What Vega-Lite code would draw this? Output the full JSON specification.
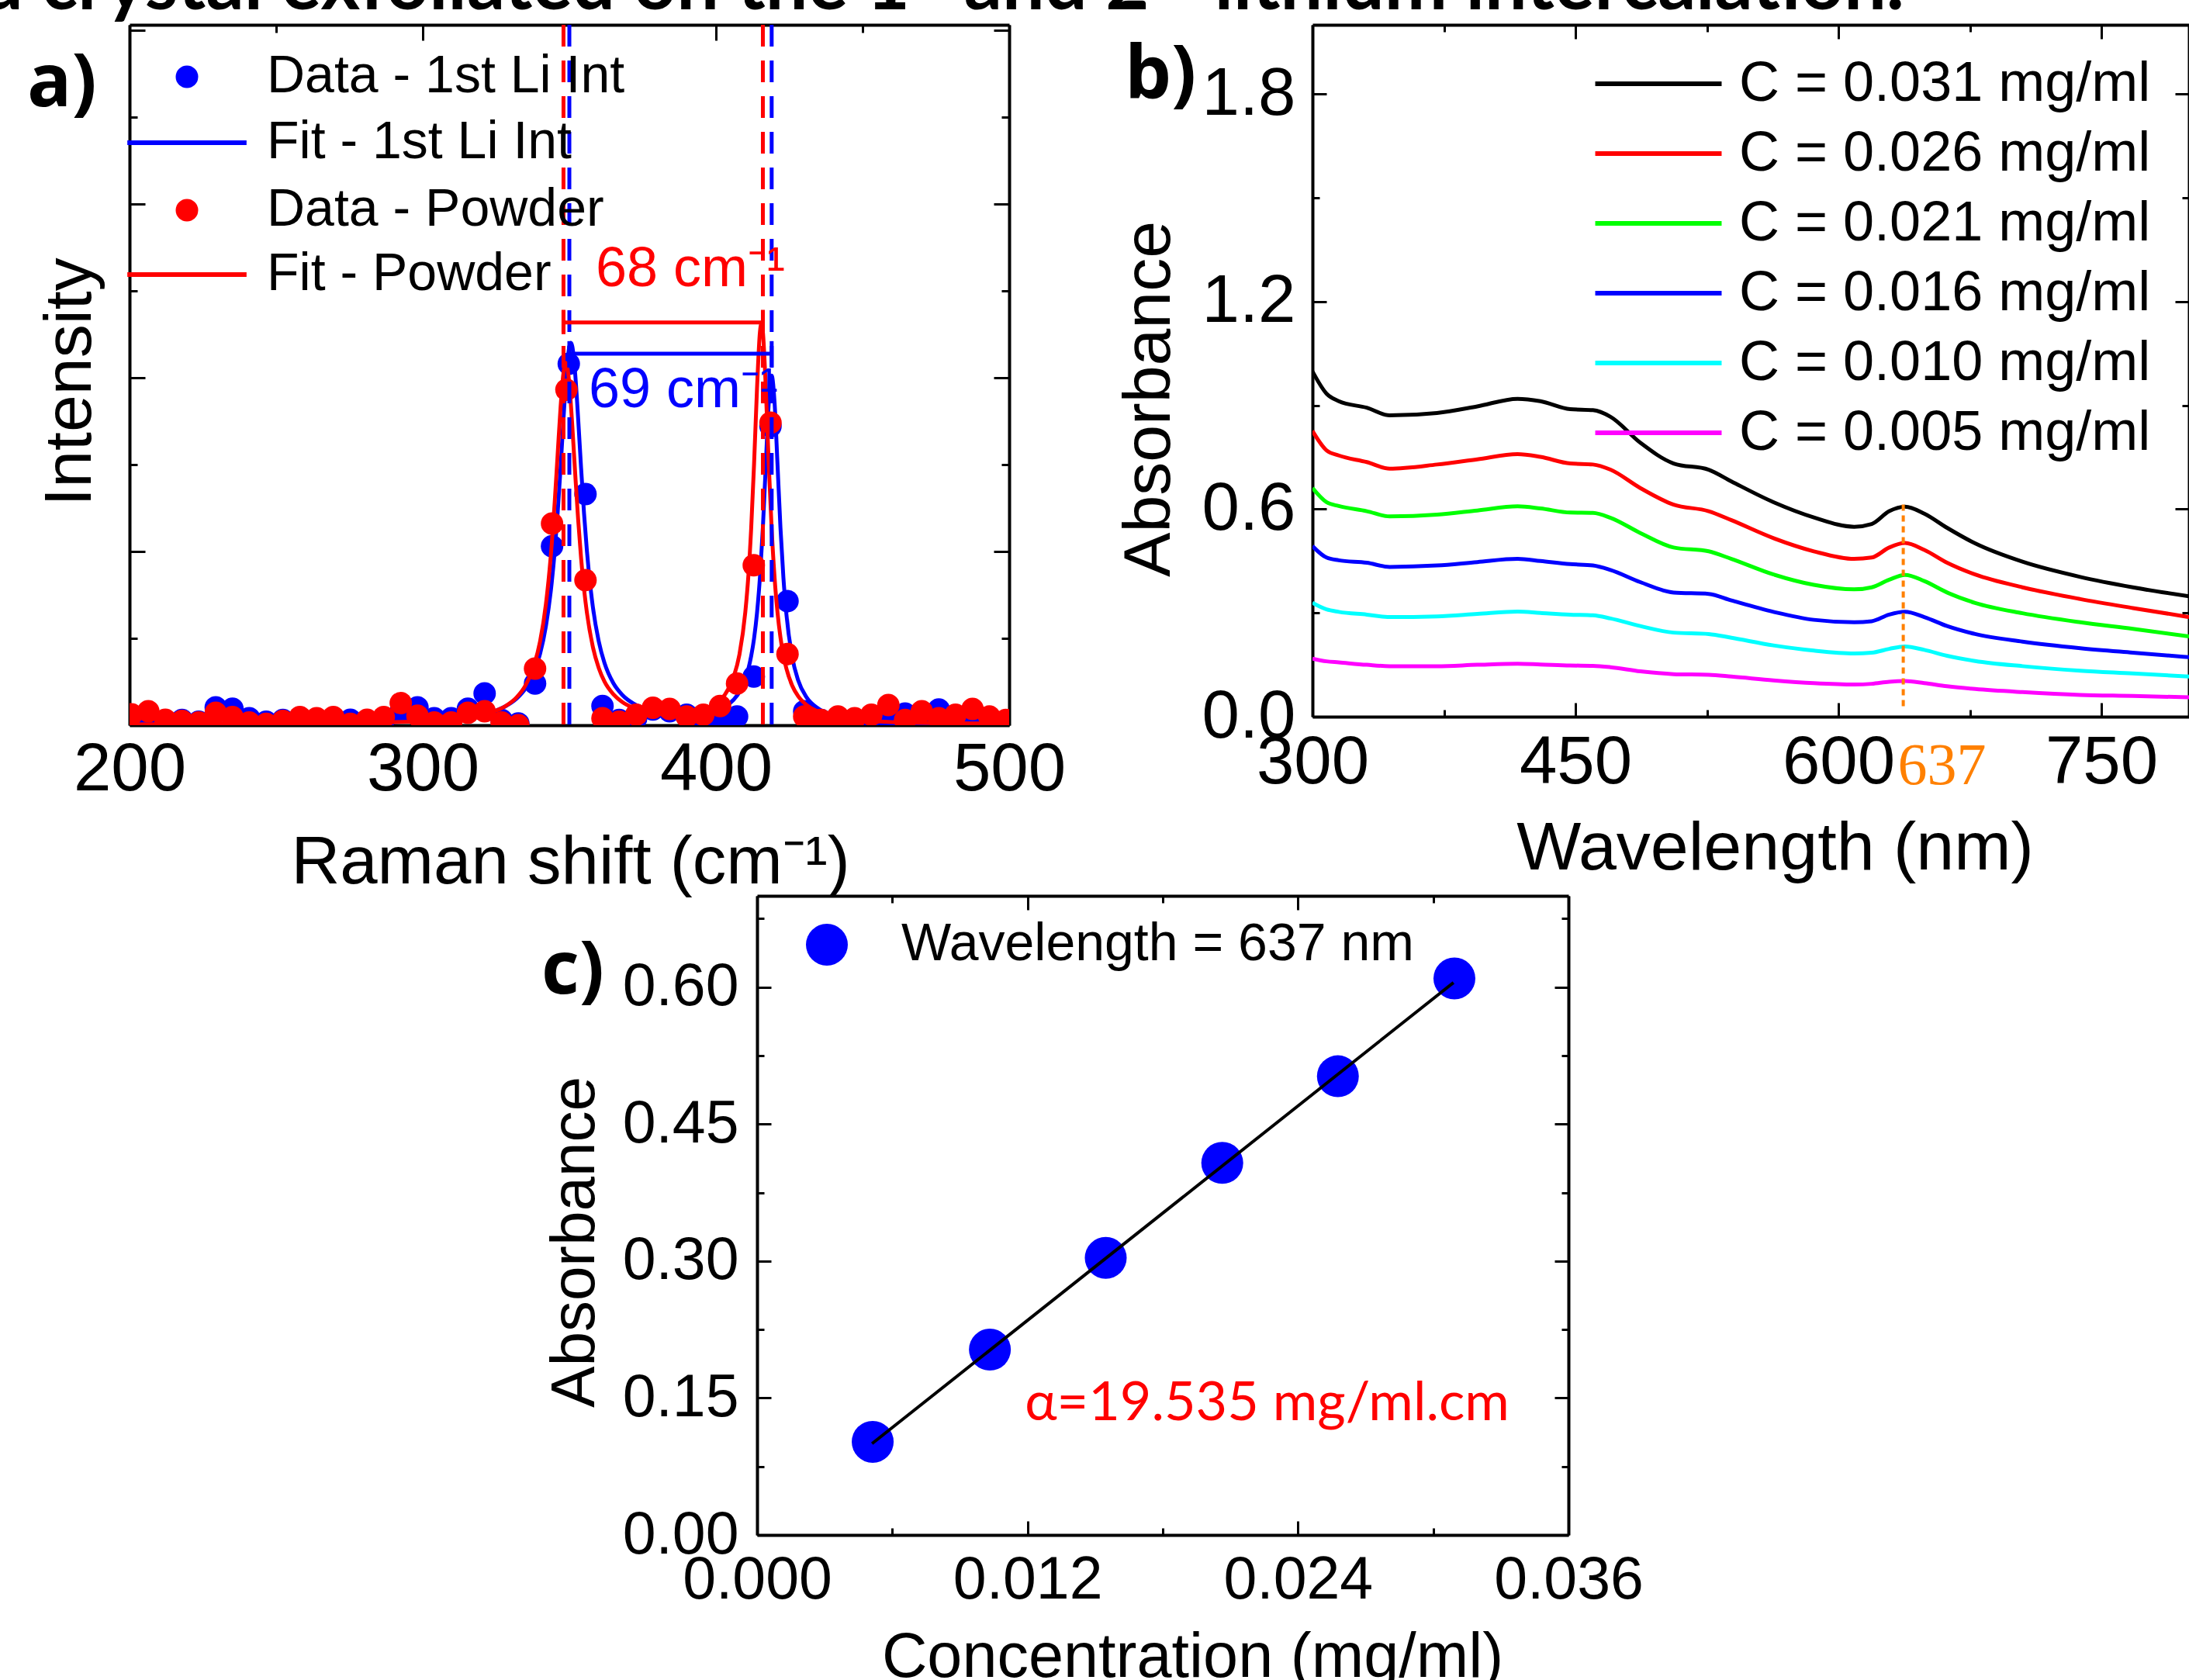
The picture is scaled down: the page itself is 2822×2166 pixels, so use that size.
{
"$schema": "https://vega.github.io/schema/vega-lite/v6.json",
"usermeta": {"embedOptions": {"actions": false}},
"autosize": {"type": "pad"},
"padding": {"left": -25, "top": -67, "right": 0, "bottom": 0},
"background": "white",
"title": {"text": "d crystal exfoliated on the 1ˢᵗ and 2ⁿᵈ lithium intercalation.", "anchor": "start", "frame": "group", "orient": "top", "offset": -79, "dx": -192, "baseline": "alphabetic", "font": "Lato", "fontWeight": "bold", "fontSize": 97, "color": "black"},
"config": {
  "view": {"stroke": null},
  "font": "Liberation Sans",
  "axis": {"grid": false, "domainColor": "black", "domainWidth": 4, "tickColor": "black", "tickWidth": 3, "labelColor": "black", "titleColor": "black", "labelFont": "Liberation Sans", "titleFont": "Liberation Sans", "titleFontWeight": "normal", "labelOverlap": false, "labelFlush": false, "labelBound": false, "labelLimit": 1000},
  "legend": {"labelFont": "Liberation Sans", "labelColor": "black", "labelLimit": 3000, "padding": 0}
},
"datasets": {
  "ramanPts": [
    {"shift":200.7,"I":0.03,"series":"Data - 1st Li Int"},{"shift":206.4,"I":0.04,"series":"Data - 1st Li Int"},{"shift":212.2,"I":0.02,"series":"Data - 1st Li Int"},{"shift":217.9,"I":0.03,"series":"Data - 1st Li Int"},{"shift":223.6,"I":0.02,"series":"Data - 1st Li Int"},{"shift":229.4,"I":0.103,"series":"Data - 1st Li Int"},{"shift":235.1,"I":0.095,"series":"Data - 1st Li Int"},{"shift":240.8,"I":0.04,"series":"Data - 1st Li Int"},{"shift":246.6,"I":0.02,"series":"Data - 1st Li Int"},{"shift":252.3,"I":0.03,"series":"Data - 1st Li Int"},
    {"shift":258.1,"I":0.02,"series":"Data - 1st Li Int"},{"shift":263.8,"I":0.03,"series":"Data - 1st Li Int"},{"shift":269.5,"I":0.04,"series":"Data - 1st Li Int"},{"shift":275.3,"I":0.031,"series":"Data - 1st Li Int"},{"shift":281.0,"I":0.02,"series":"Data - 1st Li Int"},{"shift":286.7,"I":0.03,"series":"Data - 1st Li Int"},{"shift":292.5,"I":0.08,"series":"Data - 1st Li Int"},{"shift":298.2,"I":0.103,"series":"Data - 1st Li Int"},{"shift":303.9,"I":0.04,"series":"Data - 1st Li Int"},{"shift":309.7,"I":0.04,"series":"Data - 1st Li Int"},
    {"shift":315.4,"I":0.095,"series":"Data - 1st Li Int"},{"shift":321.1,"I":0.183,"series":"Data - 1st Li Int"},{"shift":326.9,"I":0.03,"series":"Data - 1st Li Int"},{"shift":332.6,"I":0.01,"series":"Data - 1st Li Int"},{"shift":338.3,"I":0.24,"series":"Data - 1st Li Int"},{"shift":344.1,"I":1.03,"series":"Data - 1st Li Int"},{"shift":349.8,"I":2.08,"series":"Data - 1st Li Int"},{"shift":355.5,"I":1.33,"series":"Data - 1st Li Int"},{"shift":361.3,"I":0.11,"series":"Data - 1st Li Int"},{"shift":367.0,"I":0.03,"series":"Data - 1st Li Int"},
    {"shift":372.8,"I":0.04,"series":"Data - 1st Li Int"},{"shift":378.5,"I":0.09,"series":"Data - 1st Li Int"},{"shift":384.2,"I":0.08,"series":"Data - 1st Li Int"},{"shift":390.0,"I":0.06,"series":"Data - 1st Li Int"},{"shift":395.7,"I":0.04,"series":"Data - 1st Li Int"},{"shift":401.4,"I":0.03,"series":"Data - 1st Li Int"},{"shift":407.2,"I":0.05,"series":"Data - 1st Li Int"},{"shift":412.9,"I":0.28,"series":"Data - 1st Li Int"},{"shift":418.6,"I":1.72,"series":"Data - 1st Li Int"},{"shift":424.4,"I":0.714,"series":"Data - 1st Li Int"},
    {"shift":430.1,"I":0.08,"series":"Data - 1st Li Int"},{"shift":435.8,"I":0.03,"series":"Data - 1st Li Int"},{"shift":441.6,"I":0.04,"series":"Data - 1st Li Int"},{"shift":447.3,"I":0.03,"series":"Data - 1st Li Int"},{"shift":453.0,"I":0.05,"series":"Data - 1st Li Int"},{"shift":458.8,"I":0.04,"series":"Data - 1st Li Int"},{"shift":464.5,"I":0.067,"series":"Data - 1st Li Int"},{"shift":470.2,"I":0.05,"series":"Data - 1st Li Int"},{"shift":476.0,"I":0.09,"series":"Data - 1st Li Int"},{"shift":481.7,"I":0.04,"series":"Data - 1st Li Int"},
    {"shift":487.5,"I":0.05,"series":"Data - 1st Li Int"},{"shift":493.2,"I":0.03,"series":"Data - 1st Li Int"},{"shift":498.9,"I":0.02,"series":"Data - 1st Li Int"},
    {"shift":200.7,"I":0.063,"series":"Data - Powder"},{"shift":206.4,"I":0.08,"series":"Data - Powder"},{"shift":212.2,"I":0.031,"series":"Data - Powder"},{"shift":217.9,"I":0.024,"series":"Data - Powder"},{"shift":223.6,"I":0.016,"series":"Data - Powder"},{"shift":229.4,"I":0.071,"series":"Data - Powder"},{"shift":235.1,"I":0.047,"series":"Data - Powder"},{"shift":240.8,"I":0.016,"series":"Data - Powder"},{"shift":246.6,"I":0.008,"series":"Data - Powder"},{"shift":252.3,"I":0.024,"series":"Data - Powder"},
    {"shift":258.1,"I":0.047,"series":"Data - Powder"},{"shift":263.8,"I":0.04,"series":"Data - Powder"},{"shift":269.5,"I":0.047,"series":"Data - Powder"},{"shift":275.3,"I":0.008,"series":"Data - Powder"},{"shift":281.0,"I":0.031,"series":"Data - Powder"},{"shift":286.7,"I":0.047,"series":"Data - Powder"},{"shift":292.5,"I":0.127,"series":"Data - Powder"},{"shift":298.2,"I":0.055,"series":"Data - Powder"},{"shift":303.9,"I":0.016,"series":"Data - Powder"},{"shift":309.7,"I":0.016,"series":"Data - Powder"},
    {"shift":315.4,"I":0.071,"series":"Data - Powder"},{"shift":321.1,"I":0.08,"series":"Data - Powder"},{"shift":326.9,"I":0.016,"series":"Data - Powder"},{"shift":332.6,"I":0.0,"series":"Data - Powder"},{"shift":338.3,"I":0.326,"series":"Data - Powder"},{"shift":344.1,"I":1.16,"series":"Data - Powder"},{"shift":349.0,"I":1.93,"series":"Data - Powder"},{"shift":355.5,"I":0.835,"series":"Data - Powder"},{"shift":361.3,"I":0.04,"series":"Data - Powder"},{"shift":367.0,"I":0.02,"series":"Data - Powder"},
    {"shift":372.8,"I":0.06,"series":"Data - Powder"},{"shift":378.5,"I":0.1,"series":"Data - Powder"},{"shift":384.2,"I":0.094,"series":"Data - Powder"},{"shift":390.0,"I":0.05,"series":"Data - Powder"},{"shift":395.7,"I":0.06,"series":"Data - Powder"},{"shift":401.4,"I":0.11,"series":"Data - Powder"},{"shift":407.2,"I":0.24,"series":"Data - Powder"},{"shift":412.9,"I":0.92,"series":"Data - Powder"},{"shift":418.6,"I":1.74,"series":"Data - Powder"},{"shift":424.4,"I":0.41,"series":"Data - Powder"},
    {"shift":430.1,"I":0.05,"series":"Data - Powder"},{"shift":435.8,"I":0.03,"series":"Data - Powder"},{"shift":441.6,"I":0.05,"series":"Data - Powder"},{"shift":447.3,"I":0.04,"series":"Data - Powder"},{"shift":453.0,"I":0.06,"series":"Data - Powder"},{"shift":458.8,"I":0.116,"series":"Data - Powder"},{"shift":464.5,"I":0.03,"series":"Data - Powder"},{"shift":470.2,"I":0.08,"series":"Data - Powder"},{"shift":476.0,"I":0.04,"series":"Data - Powder"},{"shift":481.7,"I":0.06,"series":"Data - Powder"},
    {"shift":487.5,"I":0.094,"series":"Data - Powder"},{"shift":493.2,"I":0.05,"series":"Data - Powder"},{"shift":498.9,"I":0.03,"series":"Data - Powder"}
  ],
  "ramanFit": [
    {"shift":200,"I":0.006,"series":"Fit - 1st Li Int"},{"shift":250,"I":0.011,"series":"Fit - 1st Li Int"},{"shift":300,"I":0.023,"series":"Fit - 1st Li Int"},{"shift":310,"I":0.035,"series":"Fit - 1st Li Int"},{"shift":318,"I":0.053,"series":"Fit - 1st Li Int"},{"shift":324,"I":0.078,"series":"Fit - 1st Li Int"},{"shift":328,"I":0.107,"series":"Fit - 1st Li Int"},{"shift":332,"I":0.153,"series":"Fit - 1st Li Int"},{"shift":335,"I":0.21,"series":"Fit - 1st Li Int"},{"shift":338,"I":0.307,"series":"Fit - 1st Li Int"},
    {"shift":340,"I":0.41,"series":"Fit - 1st Li Int"},{"shift":342,"I":0.57,"series":"Fit - 1st Li Int"},{"shift":344,"I":0.822,"series":"Fit - 1st Li Int"},{"shift":345,"I":1.0,"series":"Fit - 1st Li Int"},{"shift":346,"I":1.22,"series":"Fit - 1st Li Int"},{"shift":347,"I":1.48,"series":"Fit - 1st Li Int"},{"shift":348,"I":1.764,"series":"Fit - 1st Li Int"},{"shift":349,"I":2.02,"series":"Fit - 1st Li Int"},{"shift":350,"I":2.18,"series":"Fit - 1st Li Int"},{"shift":350.5,"I":2.2,"series":"Fit - 1st Li Int"},
    {"shift":351,"I":2.18,"series":"Fit - 1st Li Int"},{"shift":352,"I":2.02,"series":"Fit - 1st Li Int"},{"shift":353,"I":1.764,"series":"Fit - 1st Li Int"},{"shift":354,"I":1.48,"series":"Fit - 1st Li Int"},{"shift":355,"I":1.22,"series":"Fit - 1st Li Int"},{"shift":356,"I":1.0,"series":"Fit - 1st Li Int"},{"shift":358,"I":0.683,"series":"Fit - 1st Li Int"},{"shift":360,"I":0.484,"series":"Fit - 1st Li Int"},{"shift":362,"I":0.357,"series":"Fit - 1st Li Int"},{"shift":365,"I":0.242,"series":"Fit - 1st Li Int"},
    {"shift":368,"I":0.175,"series":"Fit - 1st Li Int"},{"shift":372,"I":0.123,"series":"Fit - 1st Li Int"},{"shift":376,"I":0.094,"series":"Fit - 1st Li Int"},{"shift":380,"I":0.077,"series":"Fit - 1st Li Int"},{"shift":385,"I":0.065,"series":"Fit - 1st Li Int"},{"shift":390,"I":0.062,"series":"Fit - 1st Li Int"},{"shift":395,"I":0.067,"series":"Fit - 1st Li Int"},{"shift":400,"I":0.084,"series":"Fit - 1st Li Int"},{"shift":403,"I":0.106,"series":"Fit - 1st Li Int"},{"shift":406,"I":0.146,"series":"Fit - 1st Li Int"},
    {"shift":408,"I":0.191,"series":"Fit - 1st Li Int"},{"shift":410,"I":0.266,"series":"Fit - 1st Li Int"},{"shift":411,"I":0.321,"series":"Fit - 1st Li Int"},{"shift":412,"I":0.397,"series":"Fit - 1st Li Int"},{"shift":413,"I":0.5,"series":"Fit - 1st Li Int"},{"shift":414,"I":0.646,"series":"Fit - 1st Li Int"},{"shift":415,"I":0.852,"series":"Fit - 1st Li Int"},{"shift":416,"I":1.137,"series":"Fit - 1st Li Int"},{"shift":417,"I":1.5,"series":"Fit - 1st Li Int"},{"shift":418,"I":1.853,"series":"Fit - 1st Li Int"},
    {"shift":419,"I":2.012,"series":"Fit - 1st Li Int"},{"shift":420,"I":1.852,"series":"Fit - 1st Li Int"},{"shift":421,"I":1.497,"series":"Fit - 1st Li Int"},{"shift":422,"I":1.135,"series":"Fit - 1st Li Int"},{"shift":423,"I":0.85,"series":"Fit - 1st Li Int"},{"shift":424,"I":0.643,"series":"Fit - 1st Li Int"},{"shift":426,"I":0.392,"series":"Fit - 1st Li Int"},{"shift":428,"I":0.26,"series":"Fit - 1st Li Int"},{"shift":431,"I":0.158,"series":"Fit - 1st Li Int"},{"shift":435,"I":0.095,"series":"Fit - 1st Li Int"},
    {"shift":440,"I":0.059,"series":"Fit - 1st Li Int"},{"shift":450,"I":0.029,"series":"Fit - 1st Li Int"},{"shift":460,"I":0.018,"series":"Fit - 1st Li Int"},{"shift":470,"I":0.013,"series":"Fit - 1st Li Int"},{"shift":480,"I":0.011,"series":"Fit - 1st Li Int"},{"shift":500,"I":0.009,"series":"Fit - 1st Li Int"},
    {"shift":200,"I":0.005,"series":"Fit - Powder"},{"shift":250,"I":0.01,"series":"Fit - Powder"},{"shift":300,"I":0.022,"series":"Fit - Powder"},{"shift":310,"I":0.034,"series":"Fit - Powder"},{"shift":318,"I":0.052,"series":"Fit - Powder"},{"shift":324,"I":0.078,"series":"Fit - Powder"},{"shift":328,"I":0.108,"series":"Fit - Powder"},{"shift":332,"I":0.16,"series":"Fit - Powder"},{"shift":335,"I":0.228,"series":"Fit - Powder"},{"shift":338,"I":0.347,"series":"Fit - Powder"},
    {"shift":340,"I":0.481,"series":"Fit - Powder"},{"shift":342,"I":0.696,"series":"Fit - Powder"},{"shift":344,"I":1.044,"series":"Fit - Powder"},{"shift":345,"I":1.282,"series":"Fit - Powder"},{"shift":346,"I":1.556,"series":"Fit - Powder"},{"shift":347,"I":1.828,"series":"Fit - Powder"},{"shift":348,"I":2.028,"series":"Fit - Powder"},{"shift":348.8,"I":2.085,"series":"Fit - Powder"},{"shift":349,"I":2.08,"series":"Fit - Powder"},{"shift":350,"I":1.962,"series":"Fit - Powder"},
    {"shift":351,"I":1.723,"series":"Fit - Powder"},{"shift":352,"I":1.445,"series":"Fit - Powder"},{"shift":353,"I":1.183,"series":"Fit - Powder"},{"shift":354,"I":0.962,"series":"Fit - Powder"},{"shift":355,"I":0.785,"series":"Fit - Powder"},{"shift":356,"I":0.646,"series":"Fit - Powder"},{"shift":358,"I":0.452,"series":"Fit - Powder"},{"shift":360,"I":0.33,"series":"Fit - Powder"},{"shift":362,"I":0.25,"series":"Fit - Powder"},{"shift":365,"I":0.178,"series":"Fit - Powder"},
    {"shift":368,"I":0.134,"series":"Fit - Powder"},{"shift":372,"I":0.099,"series":"Fit - Powder"},{"shift":376,"I":0.08,"series":"Fit - Powder"},{"shift":380,"I":0.069,"series":"Fit - Powder"},{"shift":385,"I":0.064,"series":"Fit - Powder"},{"shift":390,"I":0.068,"series":"Fit - Powder"},{"shift":395,"I":0.084,"series":"Fit - Powder"},{"shift":400,"I":0.124,"series":"Fit - Powder"},{"shift":403,"I":0.175,"series":"Fit - Powder"},{"shift":406,"I":0.276,"series":"Fit - Powder"},
    {"shift":408,"I":0.406,"series":"Fit - Powder"},{"shift":410,"I":0.649,"series":"Fit - Powder"},{"shift":411,"I":0.848,"series":"Fit - Powder"},{"shift":412,"I":1.129,"series":"Fit - Powder"},{"shift":413,"I":1.505,"series":"Fit - Powder"},{"shift":414,"I":1.937,"series":"Fit - Powder"},{"shift":415,"I":2.263,"series":"Fit - Powder"},{"shift":415.5,"I":2.31,"series":"Fit - Powder"},{"shift":416,"I":2.263,"series":"Fit - Powder"},{"shift":417,"I":1.937,"series":"Fit - Powder"},
    {"shift":418,"I":1.505,"series":"Fit - Powder"},{"shift":419,"I":1.128,"series":"Fit - Powder"},{"shift":420,"I":0.847,"series":"Fit - Powder"},{"shift":421,"I":0.647,"series":"Fit - Powder"},{"shift":422,"I":0.505,"series":"Fit - Powder"},{"shift":423,"I":0.402,"series":"Fit - Powder"},{"shift":424,"I":0.327,"series":"Fit - Powder"},{"shift":426,"I":0.228,"series":"Fit - Powder"},{"shift":428,"I":0.168,"series":"Fit - Powder"},{"shift":431,"I":0.115,"series":"Fit - Powder"},
    {"shift":435,"I":0.077,"series":"Fit - Powder"},{"shift":440,"I":0.051,"series":"Fit - Powder"},{"shift":450,"I":0.028,"series":"Fit - Powder"},{"shift":460,"I":0.018,"series":"Fit - Powder"},{"shift":470,"I":0.013,"series":"Fit - Powder"},{"shift":480,"I":0.011,"series":"Fit - Powder"},{"shift":500,"I":0.009,"series":"Fit - Powder"}
  ],
  "peakPos": [
    {"shift":348,"sample":"Powder"},{"shift":416,"sample":"Powder"},{"shift":350,"sample":"1st Li Int"},{"shift":419,"sample":"1st Li Int"}
  ],
  "shiftBars": [
    {"from":348,"to":416,"level":2.317,"sample":"Powder"},{"from":350,"to":419,"level":2.138,"sample":"1st Li Int"}
  ],
  "barCaps": [
    {"shift":348,"lo":2.25,"hi":2.39,"sample":"Powder"},{"shift":416,"lo":2.25,"hi":2.39,"sample":"Powder"},{"shift":350,"lo":2.06,"hi":2.21,"sample":"1st Li Int"},{"shift":419,"lo":2.06,"hi":2.21,"sample":"1st Li Int"}
  ],
  "shiftLabels": [
    {"shift":359,"I":2.527,"text":"68 cm⁻¹","sample":"Powder"},{"shift":356.6,"I":1.83,"text":"69 cm⁻¹","sample":"1st Li Int"}
  ],
  "uvvis": [
    {"wl":300,"A":0.998,"C":"C = 0.031 mg/ml"},{"wl":308,"A":0.934,"C":"C = 0.031 mg/ml"},{"wl":315,"A":0.912,"C":"C = 0.031 mg/ml"},{"wl":331,"A":0.893,"C":"C = 0.031 mg/ml"},{"wl":344,"A":0.871,"C":"C = 0.031 mg/ml"},{"wl":371,"A":0.878,"C":"C = 0.031 mg/ml"},{"wl":394,"A":0.897,"C":"C = 0.031 mg/ml"},{"wl":417,"A":0.919,"C":"C = 0.031 mg/ml"},{"wl":430,"A":0.912,"C":"C = 0.031 mg/ml"},{"wl":447,"A":0.889,"C":"C = 0.031 mg/ml"},
    {"wl":460,"A":0.886,"C":"C = 0.031 mg/ml"},{"wl":470,"A":0.867,"C":"C = 0.031 mg/ml"},{"wl":487,"A":0.792,"C":"C = 0.031 mg/ml"},{"wl":506,"A":0.732,"C":"C = 0.031 mg/ml"},{"wl":526,"A":0.714,"C":"C = 0.031 mg/ml"},{"wl":539,"A":0.68,"C":"C = 0.031 mg/ml"},{"wl":563,"A":0.62,"C":"C = 0.031 mg/ml"},{"wl":586,"A":0.576,"C":"C = 0.031 mg/ml"},{"wl":609,"A":0.549,"C":"C = 0.031 mg/ml"},{"wl":619,"A":0.557,"C":"C = 0.031 mg/ml"},
    {"wl":629,"A":0.594,"C":"C = 0.031 mg/ml"},{"wl":638,"A":0.607,"C":"C = 0.031 mg/ml"},{"wl":649,"A":0.587,"C":"C = 0.031 mg/ml"},{"wl":662,"A":0.546,"C":"C = 0.031 mg/ml"},{"wl":678,"A":0.501,"C":"C = 0.031 mg/ml"},{"wl":705,"A":0.448,"C":"C = 0.031 mg/ml"},{"wl":738,"A":0.404,"C":"C = 0.031 mg/ml"},{"wl":768,"A":0.374,"C":"C = 0.031 mg/ml"},{"wl":800,"A":0.348,"C":"C = 0.031 mg/ml"},
    {"wl":300,"A":0.826,"C":"C = 0.026 mg/ml"},{"wl":308,"A":0.77,"C":"C = 0.026 mg/ml"},{"wl":315,"A":0.755,"C":"C = 0.026 mg/ml"},{"wl":331,"A":0.736,"C":"C = 0.026 mg/ml"},{"wl":344,"A":0.717,"C":"C = 0.026 mg/ml"},{"wl":371,"A":0.729,"C":"C = 0.026 mg/ml"},{"wl":394,"A":0.744,"C":"C = 0.026 mg/ml"},{"wl":417,"A":0.759,"C":"C = 0.026 mg/ml"},{"wl":430,"A":0.751,"C":"C = 0.026 mg/ml"},{"wl":447,"A":0.732,"C":"C = 0.026 mg/ml"},
    {"wl":460,"A":0.729,"C":"C = 0.026 mg/ml"},{"wl":470,"A":0.714,"C":"C = 0.026 mg/ml"},{"wl":487,"A":0.661,"C":"C = 0.026 mg/ml"},{"wl":506,"A":0.613,"C":"C = 0.026 mg/ml"},{"wl":526,"A":0.594,"C":"C = 0.026 mg/ml"},{"wl":539,"A":0.568,"C":"C = 0.026 mg/ml"},{"wl":563,"A":0.516,"C":"C = 0.026 mg/ml"},{"wl":586,"A":0.478,"C":"C = 0.026 mg/ml"},{"wl":609,"A":0.456,"C":"C = 0.026 mg/ml"},{"wl":619,"A":0.46,"C":"C = 0.026 mg/ml"},
    {"wl":629,"A":0.489,"C":"C = 0.026 mg/ml"},{"wl":638,"A":0.502,"C":"C = 0.026 mg/ml"},{"wl":649,"A":0.482,"C":"C = 0.026 mg/ml"},{"wl":662,"A":0.445,"C":"C = 0.026 mg/ml"},{"wl":678,"A":0.411,"C":"C = 0.026 mg/ml"},{"wl":705,"A":0.374,"C":"C = 0.026 mg/ml"},{"wl":738,"A":0.34,"C":"C = 0.026 mg/ml"},{"wl":768,"A":0.314,"C":"C = 0.026 mg/ml"},{"wl":800,"A":0.288,"C":"C = 0.026 mg/ml"},
    {"wl":300,"A":0.661,"C":"C = 0.021 mg/ml"},{"wl":308,"A":0.62,"C":"C = 0.021 mg/ml"},{"wl":315,"A":0.609,"C":"C = 0.021 mg/ml"},{"wl":331,"A":0.594,"C":"C = 0.021 mg/ml"},{"wl":344,"A":0.579,"C":"C = 0.021 mg/ml"},{"wl":371,"A":0.584,"C":"C = 0.021 mg/ml"},{"wl":394,"A":0.596,"C":"C = 0.021 mg/ml"},{"wl":417,"A":0.608,"C":"C = 0.021 mg/ml"},{"wl":430,"A":0.602,"C":"C = 0.021 mg/ml"},{"wl":447,"A":0.59,"C":"C = 0.021 mg/ml"},
    {"wl":460,"A":0.589,"C":"C = 0.021 mg/ml"},{"wl":470,"A":0.575,"C":"C = 0.021 mg/ml"},{"wl":487,"A":0.531,"C":"C = 0.021 mg/ml"},{"wl":506,"A":0.489,"C":"C = 0.021 mg/ml"},{"wl":526,"A":0.478,"C":"C = 0.021 mg/ml"},{"wl":539,"A":0.456,"C":"C = 0.021 mg/ml"},{"wl":563,"A":0.411,"C":"C = 0.021 mg/ml"},{"wl":586,"A":0.381,"C":"C = 0.021 mg/ml"},{"wl":609,"A":0.368,"C":"C = 0.021 mg/ml"},{"wl":619,"A":0.374,"C":"C = 0.021 mg/ml"},
    {"wl":629,"A":0.396,"C":"C = 0.021 mg/ml"},{"wl":638,"A":0.41,"C":"C = 0.021 mg/ml"},{"wl":649,"A":0.392,"C":"C = 0.021 mg/ml"},{"wl":662,"A":0.359,"C":"C = 0.021 mg/ml"},{"wl":678,"A":0.329,"C":"C = 0.021 mg/ml"},{"wl":705,"A":0.299,"C":"C = 0.021 mg/ml"},{"wl":738,"A":0.273,"C":"C = 0.021 mg/ml"},{"wl":768,"A":0.254,"C":"C = 0.021 mg/ml"},{"wl":800,"A":0.232,"C":"C = 0.021 mg/ml"},
    {"wl":300,"A":0.493,"C":"C = 0.016 mg/ml"},{"wl":308,"A":0.46,"C":"C = 0.016 mg/ml"},{"wl":315,"A":0.452,"C":"C = 0.016 mg/ml"},{"wl":331,"A":0.445,"C":"C = 0.016 mg/ml"},{"wl":344,"A":0.433,"C":"C = 0.016 mg/ml"},{"wl":371,"A":0.437,"C":"C = 0.016 mg/ml"},{"wl":394,"A":0.447,"C":"C = 0.016 mg/ml"},{"wl":417,"A":0.456,"C":"C = 0.016 mg/ml"},{"wl":430,"A":0.45,"C":"C = 0.016 mg/ml"},{"wl":447,"A":0.441,"C":"C = 0.016 mg/ml"},
    {"wl":460,"A":0.437,"C":"C = 0.016 mg/ml"},{"wl":470,"A":0.424,"C":"C = 0.016 mg/ml"},{"wl":487,"A":0.389,"C":"C = 0.016 mg/ml"},{"wl":506,"A":0.359,"C":"C = 0.016 mg/ml"},{"wl":526,"A":0.355,"C":"C = 0.016 mg/ml"},{"wl":539,"A":0.336,"C":"C = 0.016 mg/ml"},{"wl":563,"A":0.303,"C":"C = 0.016 mg/ml"},{"wl":586,"A":0.28,"C":"C = 0.016 mg/ml"},{"wl":609,"A":0.273,"C":"C = 0.016 mg/ml"},{"wl":619,"A":0.276,"C":"C = 0.016 mg/ml"},
    {"wl":629,"A":0.295,"C":"C = 0.016 mg/ml"},{"wl":638,"A":0.303,"C":"C = 0.016 mg/ml"},{"wl":649,"A":0.288,"C":"C = 0.016 mg/ml"},{"wl":662,"A":0.262,"C":"C = 0.016 mg/ml"},{"wl":678,"A":0.239,"C":"C = 0.016 mg/ml"},{"wl":705,"A":0.217,"C":"C = 0.016 mg/ml"},{"wl":738,"A":0.198,"C":"C = 0.016 mg/ml"},{"wl":768,"A":0.185,"C":"C = 0.016 mg/ml"},{"wl":800,"A":0.172,"C":"C = 0.016 mg/ml"},
    {"wl":300,"A":0.329,"C":"C = 0.010 mg/ml"},{"wl":308,"A":0.31,"C":"C = 0.010 mg/ml"},{"wl":315,"A":0.303,"C":"C = 0.010 mg/ml"},{"wl":331,"A":0.295,"C":"C = 0.010 mg/ml"},{"wl":344,"A":0.288,"C":"C = 0.010 mg/ml"},{"wl":371,"A":0.29,"C":"C = 0.010 mg/ml"},{"wl":394,"A":0.297,"C":"C = 0.010 mg/ml"},{"wl":417,"A":0.304,"C":"C = 0.010 mg/ml"},{"wl":430,"A":0.3,"C":"C = 0.010 mg/ml"},{"wl":447,"A":0.295,"C":"C = 0.010 mg/ml"},
    {"wl":460,"A":0.293,"C":"C = 0.010 mg/ml"},{"wl":470,"A":0.284,"C":"C = 0.010 mg/ml"},{"wl":487,"A":0.262,"C":"C = 0.010 mg/ml"},{"wl":506,"A":0.243,"C":"C = 0.010 mg/ml"},{"wl":526,"A":0.239,"C":"C = 0.010 mg/ml"},{"wl":539,"A":0.228,"C":"C = 0.010 mg/ml"},{"wl":563,"A":0.206,"C":"C = 0.010 mg/ml"},{"wl":586,"A":0.191,"C":"C = 0.010 mg/ml"},{"wl":609,"A":0.183,"C":"C = 0.010 mg/ml"},{"wl":619,"A":0.185,"C":"C = 0.010 mg/ml"},
    {"wl":629,"A":0.196,"C":"C = 0.010 mg/ml"},{"wl":638,"A":0.203,"C":"C = 0.010 mg/ml"},{"wl":649,"A":0.193,"C":"C = 0.010 mg/ml"},{"wl":662,"A":0.176,"C":"C = 0.010 mg/ml"},{"wl":678,"A":0.161,"C":"C = 0.010 mg/ml"},{"wl":705,"A":0.146,"C":"C = 0.010 mg/ml"},{"wl":738,"A":0.133,"C":"C = 0.010 mg/ml"},{"wl":768,"A":0.125,"C":"C = 0.010 mg/ml"},{"wl":800,"A":0.116,"C":"C = 0.010 mg/ml"},
    {"wl":300,"A":0.168,"C":"C = 0.005 mg/ml"},{"wl":308,"A":0.16,"C":"C = 0.005 mg/ml"},{"wl":315,"A":0.157,"C":"C = 0.005 mg/ml"},{"wl":331,"A":0.15,"C":"C = 0.005 mg/ml"},{"wl":344,"A":0.146,"C":"C = 0.005 mg/ml"},{"wl":371,"A":0.146,"C":"C = 0.005 mg/ml"},{"wl":394,"A":0.15,"C":"C = 0.005 mg/ml"},{"wl":417,"A":0.153,"C":"C = 0.005 mg/ml"},{"wl":430,"A":0.151,"C":"C = 0.005 mg/ml"},{"wl":447,"A":0.148,"C":"C = 0.005 mg/ml"},
    {"wl":460,"A":0.147,"C":"C = 0.005 mg/ml"},{"wl":470,"A":0.143,"C":"C = 0.005 mg/ml"},{"wl":487,"A":0.131,"C":"C = 0.005 mg/ml"},{"wl":506,"A":0.123,"C":"C = 0.005 mg/ml"},{"wl":526,"A":0.121,"C":"C = 0.005 mg/ml"},{"wl":539,"A":0.116,"C":"C = 0.005 mg/ml"},{"wl":563,"A":0.105,"C":"C = 0.005 mg/ml"},{"wl":586,"A":0.097,"C":"C = 0.005 mg/ml"},{"wl":609,"A":0.093,"C":"C = 0.005 mg/ml"},{"wl":619,"A":0.095,"C":"C = 0.005 mg/ml"},
    {"wl":629,"A":0.101,"C":"C = 0.005 mg/ml"},{"wl":638,"A":0.103,"C":"C = 0.005 mg/ml"},{"wl":649,"A":0.097,"C":"C = 0.005 mg/ml"},{"wl":662,"A":0.088,"C":"C = 0.005 mg/ml"},{"wl":678,"A":0.08,"C":"C = 0.005 mg/ml"},{"wl":705,"A":0.071,"C":"C = 0.005 mg/ml"},{"wl":738,"A":0.063,"C":"C = 0.005 mg/ml"},{"wl":768,"A":0.06,"C":"C = 0.005 mg/ml"},{"wl":800,"A":0.056,"C":"C = 0.005 mg/ml"}
  ],
  "marker637": [{"wl":637,"lo":0.03,"hi":0.62,"label":"637"}],
  "calib": [
    {"conc":0.00513,"A":0.102,"wavelength":"Wavelength = 637 nm"},{"conc":0.01033,"A":0.203,"wavelength":"Wavelength = 637 nm"},{"conc":0.01547,"A":0.3035,"wavelength":"Wavelength = 637 nm"},{"conc":0.02064,"A":0.4075,"wavelength":"Wavelength = 637 nm"},{"conc":0.02577,"A":0.5024,"wavelength":"Wavelength = 637 nm"},{"conc":0.03094,"A":0.6095,"wavelength":"Wavelength = 637 nm"}
  ],
  "calibFit": [{"conc":0.0051,"A":0.1},{"conc":0.0309,"A":0.605}],
  "alphaNote": [{"conc":0.01188,"A":0.126,"label":"α=19.535 mg/ml.cm"}]
},
"vconcat": [
  {
    "hconcat": [
      {
        "width": 1134, "height": 903,
        "title": {"text": "a)", "anchor": "start", "frame": "group", "orient": "top", "offset": 0, "dx": -132, "dy": 202, "baseline": "alphabetic", "font": "Open Sans", "fontWeight": "bold", "fontSize": 95, "color": "black"},
        "resolve": {"axis": {"x": "independent", "y": "independent"}},
        "layer": [
          {
            "data": {"name": "ramanPts"},
            "transform": [{"filter": "datum.series === 'Data - 1st Li Int'"}],
            "mark": {"type": "point", "shape": "circle", "filled": true, "size": 841, "opacity": 1, "strokeWidth": 0, "clip": true},
            "encoding": {
              "x": {"field": "shift", "type": "quantitative", "scale": {"domain": [200, 500], "nice": false, "zero": false},
                "axis": {"orient": "bottom", "values": [200,250,300,350,400,450,500], "format": "d", "labelExpr": "datum.value % 100 === 0 ? datum.label : ''", "tickSize": {"condition": {"test": "datum.value % 100 === 0", "value": -20}, "value": -10}, "labelPadding": 34, "labelFontSize": 87, "title": "Raman shift (cm⁻¹)", "titleFontSize": 87, "titleX": 568, "titleY": 134, "titleBaseline": "top"}},
              "y": {"field": "I", "type": "quantitative", "scale": {"domain": [0, 4.03], "nice": false, "zero": false},
                "axis": {"orient": "left", "values": [0,0.5,1,1.5,2,2.5,3,3.5,4], "labels": false, "tickSize": {"condition": {"test": "datum.value % 1 === 0", "value": -20}, "value": -10}, "title": "Intensity", "titleFontSize": 86, "titleX": -33, "titleY": 460, "titleAngle": 270, "titleBaseline": "bottom"}},
              "fill": {"field": "series", "type": "nominal", "scale": {"domain": ["Data - 1st Li Int", "Data - Powder"], "range": ["#0000FF", "#FF0000"]},
                "legend": {"orient": "none", "legendX": 40, "legendY": 33, "title": null, "symbolType": "circle", "symbolSize": 841, "symbolStrokeWidth": 0, "labelFontSize": 68, "labelOffset": 69, "rowPadding": 104, "padding": 0}}
            }
          },
          {
            "data": {"name": "ramanFit"},
            "transform": [{"filter": "datum.series === 'Fit - 1st Li Int'"}],
            "mark": {"type": "line", "strokeWidth": 5, "interpolate": "monotone", "clip": true},
            "encoding": {
              "x": {"field": "shift", "type": "quantitative", "scale": {"domain": [200, 500], "nice": false, "zero": false},
                "axis": {"orient": "top", "values": [200,250,300,350,400,450,500], "labels": false, "title": null, "tickSize": {"condition": {"test": "datum.value % 100 === 0", "value": -20}, "value": -10}}},
              "y": {"field": "I", "type": "quantitative", "scale": {"domain": [0, 4.03], "nice": false, "zero": false},
                "axis": {"orient": "right", "values": [0,0.5,1,1.5,2,2.5,3,3.5,4], "labels": false, "title": null, "tickSize": {"condition": {"test": "datum.value % 1 === 0", "value": -20}, "value": -10}}},
              "stroke": {"field": "series", "type": "nominal", "scale": {"domain": ["Fit - 1st Li Int", "Fit - Powder"], "range": ["#0000FF", "#FF0000"]},
                "legend": {"orient": "none", "legendX": 40, "legendY": 118, "title": null, "symbolType": "M-5.3,0H5.3", "symbolSize": 841, "symbolStrokeWidth": 6, "labelFontSize": 68, "labelOffset": 69, "rowPadding": 102, "padding": 0}}
            }
          },
          {
            "data": {"name": "ramanPts"},
            "transform": [{"filter": "datum.series === 'Data - Powder'"}],
            "mark": {"type": "point", "shape": "circle", "filled": true, "size": 841, "opacity": 1, "strokeWidth": 0, "clip": true},
            "encoding": {
              "x": {"field": "shift", "type": "quantitative", "scale": {"domain": [200, 500], "nice": false, "zero": false}, "axis": null},
              "y": {"field": "I", "type": "quantitative", "scale": {"domain": [0, 4.03], "nice": false, "zero": false}, "axis": null},
              "fill": {"field": "series", "type": "nominal", "scale": {"domain": ["Data - 1st Li Int", "Data - Powder"], "range": ["#0000FF", "#FF0000"]}}
            }
          },
          {
            "data": {"name": "ramanFit"},
            "transform": [{"filter": "datum.series === 'Fit - Powder'"}],
            "mark": {"type": "line", "strokeWidth": 5, "interpolate": "monotone", "clip": true},
            "encoding": {
              "x": {"field": "shift", "type": "quantitative", "scale": {"domain": [200, 500], "nice": false, "zero": false}, "axis": null},
              "y": {"field": "I", "type": "quantitative", "scale": {"domain": [0, 4.03], "nice": false, "zero": false}, "axis": null},
              "stroke": {"field": "series", "type": "nominal", "scale": {"domain": ["Fit - 1st Li Int", "Fit - Powder"], "range": ["#0000FF", "#FF0000"]}}
            }
          },
          {
            "data": {"name": "peakPos"},
            "mark": {"type": "rule", "strokeWidth": 5, "strokeDash": [28, 18]},
            "encoding": {
              "x": {"field": "shift", "type": "quantitative", "scale": {"domain": [200, 500], "nice": false, "zero": false}, "axis": null},
              "color": {"field": "sample", "type": "nominal", "scale": {"domain": ["1st Li Int", "Powder"], "range": ["#0000FF", "#FF0000"]}, "legend": null}
            }
          },
          {
            "data": {"name": "shiftBars"},
            "mark": {"type": "rule", "strokeWidth": 5},
            "encoding": {
              "x": {"field": "from", "type": "quantitative", "scale": {"domain": [200, 500], "nice": false, "zero": false}, "axis": null},
              "x2": {"field": "to"},
              "y": {"field": "level", "type": "quantitative", "scale": {"domain": [0, 4.03], "nice": false, "zero": false}, "axis": null},
              "color": {"field": "sample", "type": "nominal", "scale": {"domain": ["1st Li Int", "Powder"], "range": ["#0000FF", "#FF0000"]}, "legend": null}
            }
          },
          {
            "data": {"name": "barCaps"},
            "mark": {"type": "rule", "strokeWidth": 5},
            "encoding": {
              "x": {"field": "shift", "type": "quantitative", "scale": {"domain": [200, 500], "nice": false, "zero": false}, "axis": null},
              "y": {"field": "lo", "type": "quantitative", "scale": {"domain": [0, 4.03], "nice": false, "zero": false}, "axis": null},
              "y2": {"field": "hi"},
              "color": {"field": "sample", "type": "nominal", "scale": {"domain": ["1st Li Int", "Powder"], "range": ["#0000FF", "#FF0000"]}, "legend": null}
            }
          },
          {
            "data": {"name": "shiftLabels"},
            "mark": {"type": "text", "align": "left", "baseline": "alphabetic", "fontSize": 72, "font": "Liberation Sans"},
            "encoding": {
              "x": {"field": "shift", "type": "quantitative", "scale": {"domain": [200, 500], "nice": false, "zero": false}, "axis": null},
              "y": {"field": "I", "type": "quantitative", "scale": {"domain": [0, 4.03], "nice": false, "zero": false}, "axis": null},
              "text": {"field": "text"},
              "color": {"field": "sample", "type": "nominal", "scale": {"domain": ["1st Li Int", "Powder"], "range": ["#0000FF", "#FF0000"]}, "legend": null}
            }
          }
        ]
      },
      {
        "width": 1130, "height": 892,
        "title": {"text": "b)", "anchor": "start", "frame": "group", "orient": "top", "offset": 0, "dx": -242, "dy": 190, "baseline": "alphabetic", "font": "Open Sans", "fontWeight": "bold", "fontSize": 95, "color": "black"},
        "resolve": {"axis": {"x": "independent", "y": "independent"}},
        "layer": [
          {
            "data": {"name": "uvvis"},
            "mark": {"type": "line", "strokeWidth": 5, "interpolate": "monotone", "clip": true},
            "encoding": {
              "x": {"field": "wl", "type": "quantitative", "scale": {"domain": [300, 800], "nice": false, "zero": false},
                "axis": {"orient": "bottom", "values": [300,375,450,525,600,675,750], "format": "d", "labelExpr": "(datum.value - 300) % 150 === 0 ? datum.label : ''", "tickSize": {"condition": {"test": "(datum.value - 300) % 150 === 0", "value": -18}, "value": -9}, "labelPadding": 34, "labelFontSize": 87, "title": "Wavelength (nm)", "titleFontSize": 88, "titleX": 596, "titleY": 126, "titleBaseline": "top"}},
              "y": {"field": "A", "type": "quantitative", "scale": {"domain": [0, 2], "nice": false, "zero": false},
                "axis": {"orient": "left", "values": [0,0.3,0.6,0.9,1.2,1.5,1.8], "format": ".1f", "labelExpr": "datum.value === 0 || datum.value === 0.6 || datum.value === 1.2 || datum.value === 1.8 ? datum.label : ''", "tickSize": {"condition": {"test": "datum.value === 0 || datum.value === 0.6 || datum.value === 1.2 || datum.value === 1.8", "value": -18}, "value": -9}, "labelPadding": 40, "labelFontSize": 87, "title": "Absorbance", "titleFontSize": 86, "titleX": -167, "titleY": 482, "titleAngle": 270, "titleBaseline": "bottom"}},
              "color": {"field": "C", "type": "nominal", "scale": {"domain": ["C = 0.031 mg/ml", "C = 0.026 mg/ml", "C = 0.021 mg/ml", "C = 0.016 mg/ml", "C = 0.010 mg/ml", "C = 0.005 mg/ml"], "range": ["#000000", "#FF0000", "#00FF00", "#0000FF", "#00FFFF", "#FF00FF"]},
                "legend": {"orient": "none", "legendX": 410, "legendY": 40, "title": null, "symbolType": "M-3,0H3", "symbolSize": 2950, "symbolStrokeWidth": 6, "labelFontSize": 72, "labelOffset": 68, "rowPadding": 18, "padding": 0}}
            }
          },
          {
            "data": {"name": "marker637"},
            "mark": {"type": "rule", "color": "#FF8000", "strokeWidth": 4, "strokeDash": [8, 6]},
            "encoding": {
              "x": {"field": "wl", "type": "quantitative", "scale": {"domain": [300, 800], "nice": false, "zero": false},
                "axis": {"orient": "top", "values": [300,375,450,525,600,675,750], "labels": false, "title": null, "tickSize": {"condition": {"test": "(datum.value - 300) % 150 === 0", "value": -18}, "value": -9}}},
              "y": {"field": "lo", "type": "quantitative", "scale": {"domain": [0, 2], "nice": false, "zero": false},
                "axis": {"orient": "right", "values": [0,0.3,0.6,0.9,1.2,1.5,1.8], "labels": false, "title": null, "tickSize": {"condition": {"test": "datum.value === 0 || datum.value === 0.6 || datum.value === 1.2 || datum.value === 1.8", "value": -18}, "value": -9}}},
              "y2": {"field": "hi"}
            }
          },
          {
            "data": {"name": "marker637"},
            "mark": {"type": "text", "font": "Liberation Serif", "fontSize": 76, "color": "#FF8000", "align": "left", "baseline": "alphabetic", "dx": -7, "dy": 87},
            "encoding": {
              "x": {"field": "wl", "type": "quantitative", "scale": {"domain": [300, 800], "nice": false, "zero": false}, "axis": null},
              "y": {"datum": 0, "type": "quantitative", "scale": {"domain": [0, 2], "nice": false, "zero": false}, "axis": null},
              "text": {"field": "label"}
            }
          }
        ]
      }
    ],
    "spacing": 391,
    "bounds": "flush",
    "resolve": {"scale": {"color": "independent", "fill": "independent", "stroke": "independent"}}
  },
  {
    "hconcat": [
      {
        "width": 800, "height": 10,
        "data": {"values": [{"s": 0}]},
        "mark": {"type": "point", "opacity": 0},
        "encoding": {}
      },
      {
        "width": 1046, "height": 824,
        "title": {"text": "c)", "anchor": "start", "frame": "group", "orient": "top", "offset": 0, "dx": -278, "dy": 231, "baseline": "alphabetic", "font": "Open Sans", "fontWeight": "bold", "fontSize": 95, "color": "black"},
        "resolve": {"axis": {"x": "independent", "y": "independent"}},
        "layer": [
          {
            "data": {"name": "calib"},
            "mark": {"type": "point", "shape": "circle", "filled": true, "size": 2916, "opacity": 1, "strokeWidth": 0},
            "encoding": {
              "x": {"field": "conc", "type": "quantitative", "scale": {"domain": [0, 0.036], "nice": false, "zero": false},
                "axis": {"orient": "bottom", "values": [0,0.006,0.012,0.018,0.024,0.03,0.036], "format": ".3f", "labelExpr": "datum.value === 0 || datum.value === 0.012 || datum.value === 0.024 || datum.value === 0.036 ? datum.label : ''", "tickSize": {"condition": {"test": "datum.value === 0 || datum.value === 0.012 || datum.value === 0.024 || datum.value === 0.036", "value": -18}, "value": -9}, "labelPadding": 38, "labelFontSize": 77, "title": "Concentration (mg/ml)", "titleFontSize": 81, "titleX": 561, "titleY": 118, "titleBaseline": "top"}},
              "y": {"field": "A", "type": "quantitative", "scale": {"domain": [0, 0.7], "nice": false, "zero": false},
                "axis": {"orient": "left", "values": [0,0.075,0.15,0.225,0.3,0.375,0.45,0.525,0.6,0.675], "format": ".2f", "labelExpr": "datum.value === 0 || datum.value === 0.15 || datum.value === 0.3 || datum.value === 0.45 || datum.value === 0.6 ? datum.label : ''", "tickSize": {"condition": {"test": "datum.value === 0 || datum.value === 0.15 || datum.value === 0.3 || datum.value === 0.45 || datum.value === 0.6", "value": -18}, "value": -9}, "labelPadding": 42, "labelFontSize": 77, "title": "Absorbance", "titleFontSize": 80, "titleX": -194, "titleY": 446, "titleAngle": 270, "titleBaseline": "bottom"}},
              "color": {"field": "wavelength", "type": "nominal", "scale": {"range": ["#0000FF"]},
                "legend": {"orient": "none", "legendX": 56, "legendY": 29, "title": null, "symbolType": "circle", "symbolSize": 2916, "symbolStrokeWidth": 0, "labelFontSize": 68, "labelOffset": 62, "padding": 0}}
            }
          },
          {
            "data": {"name": "calibFit"},
            "mark": {"type": "line", "color": "black", "strokeWidth": 4},
            "encoding": {
              "x": {"field": "conc", "type": "quantitative", "scale": {"domain": [0, 0.036], "nice": false, "zero": false},
                "axis": {"orient": "top", "values": [0,0.006,0.012,0.018,0.024,0.03,0.036], "labels": false, "title": null, "tickSize": {"condition": {"test": "datum.value === 0 || datum.value === 0.012 || datum.value === 0.024 || datum.value === 0.036", "value": -18}, "value": -9}}},
              "y": {"field": "A", "type": "quantitative", "scale": {"domain": [0, 0.7], "nice": false, "zero": false},
                "axis": {"orient": "right", "values": [0,0.075,0.15,0.225,0.3,0.375,0.45,0.525,0.6,0.675], "labels": false, "title": null, "tickSize": {"condition": {"test": "datum.value === 0 || datum.value === 0.15 || datum.value === 0.3 || datum.value === 0.45 || datum.value === 0.6", "value": -18}, "value": -9}}}
            }
          },
          {
            "data": {"name": "alphaNote"},
            "mark": {"type": "text", "font": "Lato", "fontSize": 70, "color": "#FF0000", "align": "left", "baseline": "alphabetic"},
            "encoding": {
              "x": {"field": "conc", "type": "quantitative", "scale": {"domain": [0, 0.036], "nice": false, "zero": false}, "axis": null},
              "y": {"field": "A", "type": "quantitative", "scale": {"domain": [0, 0.7], "nice": false, "zero": false}, "axis": null},
              "text": {"field": "label"}
            }
          }
        ]
      }
    ],
    "spacing": 9,
    "bounds": "flush",
    "resolve": {"scale": {"color": "independent", "fill": "independent", "stroke": "independent"}}
  }
],
"spacing": -12,
"bounds": "full",
"resolve": {"scale": {"color": "independent", "fill": "independent", "stroke": "independent"}}
}
